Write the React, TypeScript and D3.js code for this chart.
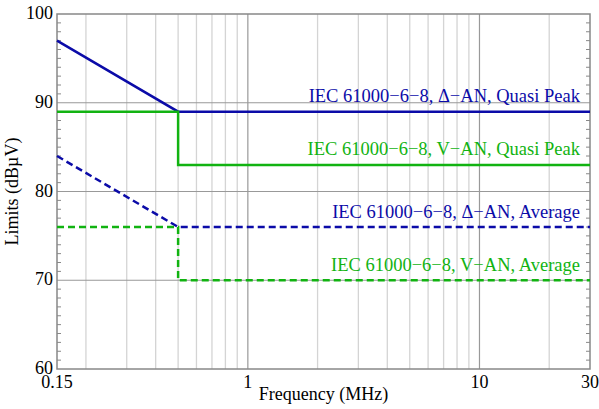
import React from "react";
import * as d3 from "d3";

// limit lines (frequency MHz, dBµV)
const deltaQP: [number, number][] = [[0.15, 97], [0.5, 89], [30, 89]];
const vQP: [number, number][] = [[0.15, 89], [0.5, 89], [0.5, 83], [30, 83]];
const deltaAvg: [number, number][] = [[0.15, 84], [0.5, 76], [30, 76]];
const vAvg: [number, number][] = [[0.15, 76], [0.5, 76], [0.5, 70], [30, 70]];

const seriesLabels = [
  "IEC 61000\u22126\u22128, \u0394\u2212AN, Quasi Peak",
  "IEC 61000\u22126\u22128, V\u2212AN, Quasi Peak",
  "IEC 61000\u22126\u22128, \u0394\u2212AN, Average",
  "IEC 61000\u22126\u22128, V\u2212AN, Average",
];

const xTickLabels = [0.15, 1, 10, 30];
const yTickLabels = [60, 70, 80, 90, 100];
const minorFreqs = [0.2, 0.3, 0.4, 0.5, 0.6, 0.7, 0.8, 0.9, 2, 3, 4, 5, 6, 7, 8, 9, 20];

export default function App() {
  const width = 599, height = 409;
  const marginLeft = 57, marginRight = 9, marginTop = 14, marginBottom = 40;
  const right = width - marginRight, bottom = height - marginBottom;

  const x = d3.scaleLog().domain([0.15, 30]).range([marginLeft, right]);
  const y = d3.scaleLinear().domain([60, 100]).range([bottom, marginTop]);

  const line = d3.line<[number, number]>()
    .x(d => x(d[0]))
    .y(d => y(d[1]));

  const blue = "#0b0ba8", green = "#11b311";
  const font = "'Liberation Serif', 'DejaVu Serif', serif";

  const series = [
    { data: deltaQP, color: blue, dash: undefined, label: seriesLabels[0], at: 89 },
    { data: vQP, color: green, dash: undefined, label: seriesLabels[1], at: 83 },
    { data: deltaAvg, color: blue, dash: "7,4", label: seriesLabels[2], at: 76 },
    { data: vAvg, color: green, dash: "7,4", label: seriesLabels[3], at: 70 },
  ];

  const yMinor = d3.range(61, 100).filter(v => v % 10 !== 0);

  return (
    <svg width={width} height={height} style={{ position: "absolute", left: 0, top: 0 }}>
      <rect width={width} height={height} fill="#fff" />
      {/* minor vertical grid */}
      {minorFreqs.map(f => (
        <line key={f} x1={x(f)} x2={x(f)} y1={marginTop} y2={bottom} stroke="#d4d4d4" strokeWidth={1.3} />
      ))}
      {/* major vertical grid */}
      {[1, 10].map(f => (
        <line key={f} x1={x(f)} x2={x(f)} y1={marginTop} y2={bottom} stroke="#999" strokeWidth={1.2} />
      ))}
      {/* major horizontal grid */}
      {[70, 80, 90].map(v => (
        <line key={v} x1={marginLeft} x2={right} y1={y(v)} y2={y(v)} stroke="#999" strokeWidth={1.2} />
      ))}
      {/* minor y ticks on both sides */}
      {yMinor.map(v => (
        <g key={v}>
          <line x1={marginLeft} x2={marginLeft + 4} y1={y(v)} y2={y(v)} stroke="#888" />
          <line x1={right - 4} x2={right} y1={y(v)} y2={y(v)} stroke="#888" />
        </g>
      ))}
      <rect x={marginLeft} y={marginTop} width={right - marginLeft} height={bottom - marginTop}
        fill="none" stroke="#888" strokeWidth={1.5} />

      {series.map((s, i) => (
        <path key={i} d={line(s.data) ?? ""} fill="none" stroke={s.color} strokeWidth={2.5}
          strokeDasharray={s.dash} />
      ))}
      {series.map((s, i) => (
        <text key={i} x={right - 10} y={y(s.at) - 9.5} textAnchor="end" fill={s.color}
          fontFamily={font} fontSize={18.5}>{s.label}</text>
      ))}

      {yTickLabels.map(v => (
        <text key={v} x={marginLeft - 4} y={y(v) + 5} textAnchor="end" fontFamily={font} fontSize={18}>{v}</text>
      ))}
      {xTickLabels.map(v => (
        <text key={v} x={x(v)} y={bottom + 19} textAnchor="middle" fontFamily={font} fontSize={18}>{v}</text>
      ))}
      <text x={(marginLeft + right) / 2} y={400} textAnchor="middle" fontFamily={font} fontSize={18}>
        Frequency (MHz)
      </text>
      <text transform={`translate(18,${(marginTop + bottom) / 2}) rotate(-90)`} textAnchor="middle"
        fontFamily={font} fontSize={18}>Limits (dBµV)</text>
    </svg>
  );
}
